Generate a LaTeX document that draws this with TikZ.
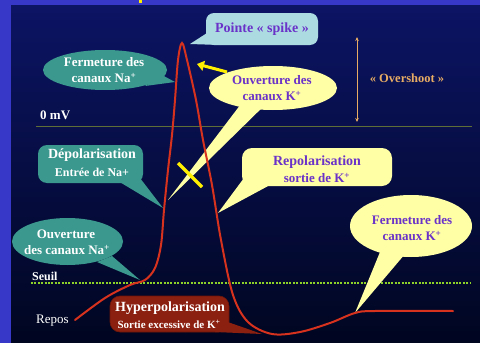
\documentclass[tikz,border=0pt]{standalone}
\usepackage{fontspec}
\setmainfont{Liberation Serif}
\usetikzlibrary{arrows.meta}
\definecolor{frameblue}{RGB}{56,56,200}
\definecolor{bgtop}{RGB}{12,20,100}
\definecolor{bgbot}{RGB}{0,6,32}
\definecolor{tealc}{RGB}{58,152,142}
\definecolor{spikec}{RGB}{172,220,226}
\definecolor{yelc}{RGB}{255,255,165}
\definecolor{purp}{RGB}{106,50,200}
\definecolor{orng}{RGB}{232,172,100}
\definecolor{hypc}{RGB}{140,32,16}
\definecolor{hypd}{RGB}{110,22,10}
\definecolor{curvec}{RGB}{215,50,30}
\definecolor{seuilc}{RGB}{140,210,40}
\definecolor{zeroc}{RGB}{95,110,55}
\definecolor{marky}{RGB}{255,240,0}
\newcommand{\fs}[1]{\fontsize{#1}{#1}\selectfont}
\begin{document}
\begin{tikzpicture}[x=1pt,y=-1pt,
  txt/.style={inner sep=0pt, align=center, font=\bfseries\fs{13}},
  wtxt/.style={txt, text=white},
  ptxt/.style={txt, text=purp},
  lbl/.style={inner sep=0pt, anchor=west, text=white},
  tealfill/.style={fill=tealc},
  yelfill/.style={fill=yelc},
  curvestyle/.style={curvec, line width=2pt, line cap=round}]
\useasboundingbox (0,0) rectangle (480,343);
% frame and background
\fill[frameblue] (0,0) rectangle (480,343);
\shade[top color=bgtop, bottom color=bgbot] (11,5) rectangle (480,343);
\fill[marky] (139,0) rectangle (142,3);

% reference lines
\draw[zeroc, line width=0.8pt] (36,126) -- (472,126);
\draw[seuilc, line width=2.2pt, dash pattern=on 2pt off 1.4pt] (31,283) -- (470,283);

% labels
\node[lbl, font=\bfseries\fs{13}] (zero) at (40,115) {0 mV};
\node[lbl, font=\bfseries\fs{12}] (seuil) at (32,276) {Seuil};
\node[lbl, font=\fs{13}] (repos) at (36,321) {Repos};

% overshoot
\coordinate (ovtop) at (357,37);
\coordinate (ovbot) at (357,122);
\draw[orng, line width=0.9pt, {Stealth[length=4pt,width=3.5pt]}-{Stealth[length=4pt,width=3.5pt]}] (ovtop) -- (ovbot);
\node[txt, text=orng, font=\bfseries\fs{12.5}] (over) at (407,78) {« Overshoot »};

% callout: Pointe spike
\fill[spikec, rounded corners=8pt] (206,13) rectangle (318,45);
\fill[spikec] (207,33) -- (190,44) -- (220,45) -- cycle;
\node[ptxt, font=\bfseries\fs{14}] (spike) at (262,29) {Pointe « spike »};

% callout: Fermeture Na
\fill[tealfill] (105,70) ellipse [x radius=62pt, y radius=20pt];
\fill[tealfill] (145,86) -- (175,82) -- (162,75) -- cycle;
\node[wtxt] (fna1) at (104,62) {Fermeture des};
\node[wtxt] (fna2) at (104,78) {canaux Na\textsuperscript{+}};

% callout: Ouverture K
\fill[yelfill] (273,88) ellipse [x radius=64pt, y radius=22pt];
\fill[yelfill] (168,200) -- (244,100) -- (270,100) -- cycle;
\node[ptxt] (ok1) at (272,80) {Ouverture des};
\node[ptxt] (ok2) at (272,96) {canaux K\textsuperscript{+}};
\coordinate (arS) at (227,72);
\coordinate (arE) at (197,64);
\draw[marky, line width=3pt, -{Triangle[length=7pt,width=10pt]}] (arS) -- (arE);
\coordinate (xa) at (178,163);
\coordinate (xb) at (202,187);
\draw[marky, line width=3.5pt] (xa) -- (xb);

% callout: Depolarisation
\fill[tealfill, rounded corners=9pt] (38,145) rectangle (143,183);
\fill[tealfill] (118,181) -- (163,208) -- (140,178) -- cycle;
\node[wtxt, font=\bfseries\fs{14}] (dep1) at (92,155) {Dépolarisation};
\node[wtxt, font=\bfseries\fs{12}] (dep2) at (92,172) {Entrée de Na+};

% callout: Repolarisation
\fill[yelfill, rounded corners=10pt] (242,148) rectangle (392,186);
\fill[yelfill] (244,178) -- (218,213) -- (270,185) -- cycle;
\node[ptxt, font=\bfseries\fs{14}] (rep1) at (317,162) {Repolarisation};
\node[ptxt] (rep2) at (317,178) {sortie de K\textsuperscript{+}};

% callout: Ouverture Na
\fill[tealfill] (67.5,241.5) ellipse [x radius=55.5pt, y radius=23.5pt];
\fill[tealfill] (97,262) -- (140,280) -- (112,256) -- cycle;
\node[wtxt] (ona1) at (66,234) {Ouverture};
\node[wtxt] (ona2) at (67,250) {des canaux Na\textsuperscript{+}};

% callout: Fermeture K
\fill[yelfill] (411,226) ellipse [x radius=61pt, y radius=31pt];
\fill[yelfill] (380,252) -- (355,313) -- (405,254) -- cycle;
\node[ptxt] (fk1) at (412,220) {Fermeture des};
\node[ptxt] (fk2) at (412,236) {canaux K\textsuperscript{+}};

% callout: Hyperpolarisation
\filldraw[fill=hypc, draw=hypd, line width=0.6pt, rounded corners=10pt] (110,296) rectangle (229,332);
\fill[hypc] (222,320) -- (262,334) -- (215,332) -- cycle;
\node[wtxt, font=\bfseries\fs{14}] (hyp1) at (170,308) {Hyperpolarisation};
\node[wtxt, font=\bfseries\fs{11}] (hyp2) at (169,324) {Sortie excessive de K\textsuperscript{+}};

% action potential curve
\draw[curvestyle] plot[smooth, tension=0.55] coordinates {(75,320) (105,298) (130,285) (145,280) (155,268) (161,245) (164,210) (168,170) (172,135) (175,100) (178,60) (182,43) (187,60) (196,100) (203,140) (212,185) (221,240) (233,295) (248,322) (272,334) (300,332) (330,323) (355,313) (375,311) (453,311)};
\end{tikzpicture}
\end{document}
